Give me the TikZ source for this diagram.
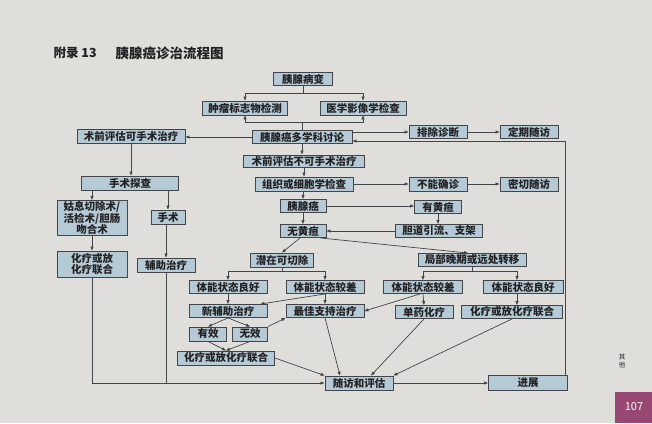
\documentclass[tikz,border=0pt]{standalone}
\usepackage{fontspec}
\setmainfont{Noto Sans CJK SC}
\usetikzlibrary{arrows.meta}
\definecolor{pagebg}{RGB}{224,222,218}
\definecolor{boxfill}{RGB}{182,202,214}
\definecolor{boxline}{RGB}{66,70,74}
\definecolor{inkgrey}{RGB}{34,34,36}
\definecolor{tabpink}{RGB}{150,72,115}
\begin{document}
\begin{tikzpicture}[x=1pt,y=-1pt,
  box/.style={draw=boxline,fill=boxfill,line width=0.9pt,text=inkgrey,
    font=\bfseries\fontsize{10.5}{11.5}\selectfont,minimum height=13pt,inner sep=1pt,align=center},
  link/.style={draw=boxline,line width=0.7pt},
  arr/.style={link,-{Triangle[length=4pt,width=3pt]}}]
\fill[pagebg] (0,0) rectangle (652,423);
\useasboundingbox (0,0) rectangle (652,423);
% title
\node[anchor=west,text=inkgrey,font=\bfseries\fontsize{12.5}{14}\selectfont] (titleA) at (50,53) {附录 13};
\node[anchor=west,text=inkgrey,font=\bfseries\fontsize{13.5}{14}\selectfont] (titleB) at (112,53) {胰腺癌诊治流程图};
% diagnosis
\node[box,minimum width=59] (bing) at (303,79) {胰腺病变};
\node[box,minimum width=85,minimum height=14] (zhongliu) at (245,108) {肿瘤标志物检测};
\node[box,minimum width=86,minimum height=14] (yingxiang) at (363,108) {医学影像学检查};
\node[box,minimum width=100,minimum height=12] (taolun) at (302,137) {胰腺癌多学科讨论};
\node[box,minimum width=108,minimum height=14] (kess) at (131,136) {术前评估可手术治疗};
\node[box,minimum width=58] (paichu) at (438,132) {排除诊断};
\node[box,minimum width=58] (dingqi) at (529,132) {定期随访};
\node[box,minimum width=121,minimum height=12] (bukess) at (304,161) {术前评估不可手术治疗};
\node[box,minimum width=98,minimum height=14] (zuzhi) at (304,184) {组织或细胞学检查};
\node[box,minimum width=58,minimum height=14] (buneng) at (438,184) {不能确诊};
\node[box,minimum width=58,minimum height=14] (miqie) at (529,184) {密切随访};
\node[box,minimum width=46] (yxa) at (303,206) {胰腺癌};
\node[box,minimum width=47] (youhuang) at (438,207) {有黄疸};
\node[box,minimum width=87] (dandao) at (439,231) {胆道引流、支架};
\node[box,minimum width=46] (wuhuang) at (303,231) {无黄疸};
\node[box,minimum width=63,minimum height=14] (qianzai) at (282,260) {潜在可切除};
\node[box,minimum width=108] (jubu) at (472,260) {局部晚期或远处转移};
% treatment
\node[box,minimum width=78] (lhaoA) at (228,287) {体能状态良好};
\node[box,minimum width=78] (jchaA) at (325,287) {体能状态较差};
\node[box,minimum width=79] (jchaB) at (423,287) {体能状态较差};
\node[box,minimum width=80] (lhaoB) at (523,287) {体能状态良好};
\node[box,minimum width=78] (xinfu) at (228,311) {新辅助治疗};
\node[box,minimum width=78] (zuijia) at (325,311) {最佳支持治疗};
\node[box,minimum width=58] (danyao) at (424,312) {单药化疗};
\node[box,minimum width=101] (hualianB) at (512,312) {化疗或放化疗联合};
\node[box,minimum width=37,minimum height=14] (youxiao) at (208,334) {有效};
\node[box,minimum width=35,minimum height=14] (wuxiao) at (250,334) {无效};
\node[box,minimum width=97,minimum height=14] (hualianA) at (226,358) {化疗或放化疗联合};
\node[box,minimum width=68,minimum height=14] (suifang) at (359,383) {随访和评估};
\node[box,minimum width=79,minimum height=15] (jinzhan) at (528,383) {进展};
% surgery
\node[box,minimum width=97,minimum height=14] (tancha) at (130,183) {手术探查};
\node[box,minimum width=70,minimum height=35] (guxi) at (92,218) {姑息切除术/\\活检术/胆肠\\吻合术};
\node[box,minimum width=34,minimum height=14] (shoushu) at (168,217) {手术};
\node[box,minimum width=70,minimum height=26] (hualianL) at (92,264) {化疗或放\\化疗联合};
\node[box,minimum width=58,minimum height=14] (fuzhu) at (166,265) {辅助治疗};
% connectors
\draw[link] (bing.south) -- ++(0,7) coordinate (b1);
\draw[arr] (b1) -| (zhongliu.north);
\draw[arr] (b1) -| (yingxiang.north);
\draw[link] (taolun.north) -- ++(0,-8) coordinate (j1);
\draw[arr] (j1) -| (zhongliu.south);
\draw[arr] (j1) -| (yingxiang.south);
\draw[arr] (taolun.west) -- (taolun.west -| kess.east);
\draw[arr] (taolun.east |- paichu.west) -- (paichu.west);
\draw[arr] (paichu.east) -- (dingqi.west);
\draw[arr] ([xshift=-3pt]jinzhan.north east) |- ([yshift=-4pt]taolun.east);
\draw[arr] (taolun.south) -- (taolun.south |- bukess.north);
\draw[arr] (bukess.south) -- (bukess.south |- zuzhi.north);
\draw[arr] (zuzhi.east) -- (buneng.west);
\draw[arr] (buneng.east) -- (miqie.west);
\draw[arr] (zuzhi.south -| yxa.north) -- (yxa.north);
\draw[arr] (yxa.east) -- (yxa.east -| youhuang.west);
\draw[arr] (youhuang.south) -- (youhuang.south |- dandao.north);
\draw[arr] (dandao.west) -- (wuhuang.east);
\draw[arr] (yxa.south) -- (wuhuang.north);
\draw[arr] ([xshift=-3pt]wuhuang.south) -- (qianzai.north);
\draw[arr] ([xshift=-6pt]wuhuang.south east) -- ([xshift=-4pt]jubu.north);
\draw[link] (qianzai.south) -- ++(0,4) coordinate (q1);
\draw[arr] (q1) -| (lhaoA.north);
\draw[arr] (q1) -| (jchaA.north);
\draw[link] (jubu.south) -- ++(0,4) coordinate (q2);
\draw[arr] (q2) -| (jchaB.north);
\draw[arr] (q2) -| ([xshift=-6pt]lhaoB.north);
\draw[arr] (lhaoA.south) -- (xinfu.north);
\draw[arr] (jchaA.south) -- (zuijia.north);
\draw[arr] (jchaA.south) -- ([xshift=-7pt]xinfu.north east);
\draw[arr] (jchaB.south) -- (danyao.north);
\draw[arr] ([xshift=-3pt]jchaB.south) -- (zuijia.east);
\draw[arr] ([xshift=-6pt]lhaoB.south) -- ([xshift=-6pt]lhaoB.south |- hualianB.north);
\draw[arr] (xinfu.south) -- (youxiao.north);
\draw[arr] (xinfu.south) -- (wuxiao.north);
\draw[arr] (wuxiao.north east) -- (zuijia.south west);
\draw[arr] (youxiao.south) -- (hualianA.north);
\draw[arr] (wuxiao.south) -- (hualianA.north);
\draw[arr] (hualianA.east) -- (suifang.north west);
\draw[arr] (zuijia.south) -- ([xshift=-19pt]suifang.north);
\draw[arr] (danyao.south) -- ([xshift=12pt]suifang.north);
\draw[arr] (hualianB.south) -- (suifang.north east);
\draw[arr] (kess.south) -- (kess.south |- tancha.north);
\draw[arr] (tancha.south -| guxi.north) -- (guxi.north);
\draw[arr] (tancha.south -| shoushu.north) -- (shoushu.north);
\draw[arr] (guxi.south) -- (hualianL.north);
\draw[arr] (shoushu.south -| fuzhu.north) -- (fuzhu.north);
\draw[arr] (hualianL.south) |- (suifang.west);
\draw[link] (fuzhu.south) -- (fuzhu.south |- suifang.west);
\draw[arr] (suifang.east) -- (jinzhan.west);
% page edge
\node[text=inkgrey,font=\fontsize{6.5}{7.5}\selectfont,align=center] (qita) at (622,361) {其\\他};
\fill[tabpink] (615,392) rectangle (652,423);
\node[text=white,font=\fontsize{11}{12}\selectfont] (pagenum) at (634,407) {107};
\end{tikzpicture}
\end{document}
